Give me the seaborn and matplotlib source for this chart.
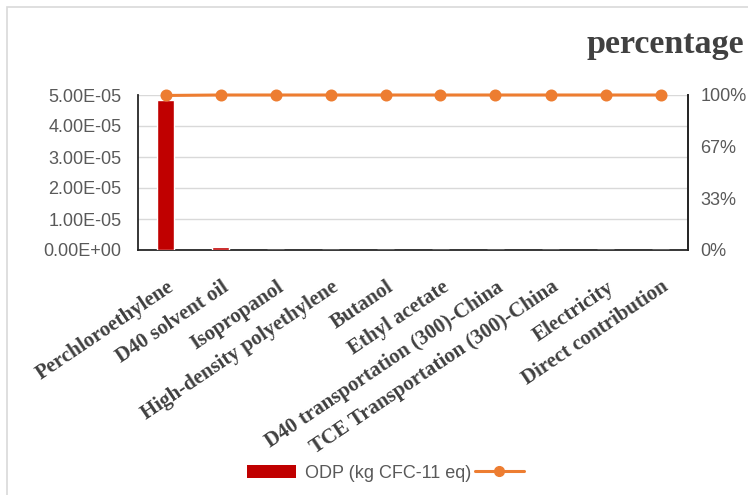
import matplotlib
matplotlib.use("Agg")
import matplotlib.pyplot as plt
import matplotlib.transforms as mtransforms
from matplotlib.patches import Rectangle, Patch
from matplotlib.lines import Line2D
from matplotlib.ticker import FuncFormatter
import seaborn as sns
import pandas as pd

# Ozone depletion potential by process contribution
categories = [
    "Perchloroethylene",
    "D40 solvent oil",
    "Isopropanol",
    "High-density polyethylene",
    "Butanol",
    "Ethyl acetate",
    "D40 transportation (300)-China",
    "TCE Transportation (300)-China",
    "Electricity",
    "Direct contribution",
]
odp_values = [4.85e-05, 9.0e-07, 0, 0, 0, 0, 0, 0, 0, 0]
cumulative_share = [0.997, 1.0, 1.0, 1.0, 1.0, 1.0, 1.0, 1.0, 1.0, 1.0]
left_ticks = [0, 1e-05, 2e-05, 3e-05, 4e-05, 5e-05]
right_ticks = [0, 1 / 3, 2 / 3, 1.0]

bar_color = "#C00000"
line_color = "#ED7D31"
tick_color = "#595959"
label_color = "#404040"

df = pd.DataFrame({"process": categories, "odp": odp_values, "share": cumulative_share})

sns.set_style("white")
plt.rcParams["font.family"] = ["Liberation Sans", "DejaVu Sans"]

fig = plt.figure(figsize=(7.48, 4.95), dpi=100)
fig.patches.append(Rectangle((7 / 748, -0.05), 1.2, 1 - 7 / 495 + 0.05,
                             transform=fig.transFigure, fill=False,
                             edgecolor="#d9d9d9", linewidth=1.2, zorder=0))

ax = fig.add_axes([138 / 748, 1 - 250 / 495, 550 / 748, 155 / 495])
sns.barplot(data=df, x="process", y="odp", color=bar_color, width=0.31,
            saturation=1, ax=ax, zorder=3)
ax.set_xlim(-0.5, len(categories) - 0.5)
ax.set_ylim(0, 5e-05)
ax.set_yticks(left_ticks)
ax.yaxis.set_major_formatter(FuncFormatter(lambda v, p: f"{v:.2E}"))
ax.grid(axis="y", color="#d9d9d9", linewidth=1, zorder=0)
ax.set_xlabel("")
ax.set_ylabel("")
ax.tick_params(axis="y", length=0, pad=12, labelsize=13, labelcolor=tick_color)
ax.tick_params(axis="x", length=0, pad=0)
ax.spines["top"].set_visible(False)
for side in ["left", "bottom", "right"]:
    ax.spines[side].set_color("#262626")
    ax.spines[side].set_linewidth(1.3)

offset = mtransforms.ScaledTranslation(0.5 / 72, -19.5 / 72, fig.dpi_scale_trans)
ax.set_xticks(range(len(categories)))
ax.set_xticklabels(categories, rotation=34, ha="right", va="top",
                   rotation_mode="anchor", family=["Liberation Serif", "DejaVu Serif"],
                   fontweight="bold", fontsize=15, color=label_color)
for lbl in ax.get_xticklabels():
    lbl.set_transform(lbl.get_transform() + offset)

ax2 = ax.twinx()
sns.pointplot(data=df, x="process", y="share", color=line_color, markers="o",
              markersize=7, linewidth=2.2, ax=ax2, zorder=5)
ax2.set_ylim(0, 1.0)
ax2.set_xlim(-0.5, len(categories) - 0.5)
ax2.set_yticks(right_ticks)
ax2.yaxis.set_major_formatter(FuncFormatter(lambda v, p: f"{v:.0%}"))
ax2.tick_params(axis="y", length=0, pad=9, labelsize=13, labelcolor=tick_color)
ax2.set_ylabel("")
ax2.set_xlabel("")
for side in ["top", "left", "bottom"]:
    ax2.spines[side].set_visible(False)
ax2.spines["right"].set_color("#262626")
ax2.spines["right"].set_linewidth(1.3)
for pt in ax2.collections + ax2.lines:
    pt.set_clip_on(False)

fig.text(665 / 748, 1 - 45 / 495, "percentage", ha="center", va="center",
         family=["Liberation Serif", "DejaVu Serif"], fontweight="bold",
         fontsize=24.5, color=label_color)

handles = [Patch(facecolor=bar_color, edgecolor="none"),
           Line2D([0], [0], color=line_color, lw=2.2, marker="o", markersize=7)]
fig.legend(handles, ["ODP (kg CFC-11 eq)", ""], loc="center",
           bbox_to_anchor=(390 / 748, 1 - 473 / 495), ncol=2, frameon=False,
           fontsize=13, labelcolor=tick_color, handlelength=2.7,
           handleheight=0.7, columnspacing=0.2, handletextpad=0.5)

fig.savefig("out.png", dpi=100)
